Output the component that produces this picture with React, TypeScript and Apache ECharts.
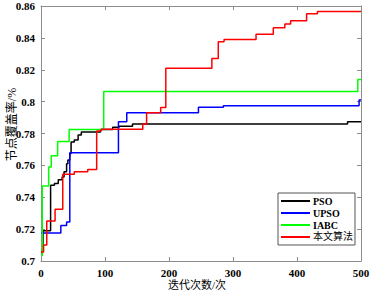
import React, { useEffect, useRef } from "react";
import * as echarts from "echarts";

const seriesNames = ["PSO", "UPSO", "IABC", "本文算法"];
const seriesColors = ["#000000", "#0000ff", "#00ff00", "#ff0000"];

const psoData: [number, number][] = [
  [0, 0.7057], [3, 0.719], [15, 0.7475], [21, 0.7486], [27, 0.751], [33, 0.7527],
  [36, 0.756], [40, 0.761], [42, 0.7633], [45, 0.7675], [47, 0.7747], [52, 0.776],
  [58, 0.779], [63, 0.781], [93, 0.7825], [112, 0.784], [122, 0.7845], [143, 0.786],
  [479, 0.7873], [500, 0.7873],
];
const upsoData: [number, number][] = [
  [0, 0.7175], [31, 0.7222], [40, 0.7245], [45, 0.768], [121, 0.7873], [134, 0.793],
  [246, 0.7964], [285, 0.7974], [497, 0.801], [500, 0.801],
];
const iabcData: [number, number][] = [
  [0, 0.7035], [2, 0.747], [12, 0.759], [16, 0.766], [26, 0.775], [44, 0.7825],
  [98, 0.8064], [495, 0.8139], [500, 0.8139],
];
const oursData: [number, number][] = [
  [0, 0.7057], [4, 0.71], [9, 0.7251], [22, 0.7325], [34, 0.7545], [52, 0.756],
  [73, 0.7574], [87, 0.7815], [94, 0.7827], [159, 0.7859], [165, 0.793], [187, 0.7963],
  [195, 0.821], [267, 0.8271], [277, 0.8376], [286, 0.839], [336, 0.8422], [363, 0.8463],
  [381, 0.8487], [390, 0.8508], [415, 0.8551], [432, 0.8565], [500, 0.8565],
];
const allData = [psoData, upsoData, iabcData, oursData];

const xMin = 0, xMax = 500, xStep = 100;
const yMin = 0.7, yMax = 0.86, yStep = 0.02;
const xTitle = "迭代次数/次";
const yTitle = "节点覆盖率/%";

const serif = "'Liberation Serif', 'Times New Roman', 'Noto Sans CJK SC', serif";
const axisGray = "#8c8c8c";

export default function App() {
  const ref = useRef<HTMLDivElement>(null);
  useEffect(() => {
    if (!ref.current) return;
    const chart = echarts.init(ref.current, undefined, { renderer: "svg" });
    const labelStyle = { fontFamily: serif, fontWeight: "bold" as const, fontSize: 11, color: "#000" };
    const grid = { left: 41, top: 6, width: 320, height: 255, containLabel: false, outerBoundsMode: "none" };
    const boxAxis = {
      axisLine: { show: true, onZero: false, lineStyle: { color: axisGray } },
      axisTick: { show: true, inside: true, length: 4, lineStyle: { color: axisGray } },
      splitLine: { show: false },
    };
    chart.setOption({
      animation: false,
      backgroundColor: "#ffffff",
      grid,
      legend: {
        orient: "vertical",
        left: 278,
        top: 193,
        padding: [3, 2, 3, 3],
        itemGap: 2,
        itemWidth: 29,
        itemHeight: 2,
        icon: "rect",
        borderColor: "#555",
        borderWidth: 1,
        backgroundColor: "#fff",
        formatter: (name: string) => (/^[A-Za-z]+$/.test(name) ? `{en|${name}}` : `{cn|${name}}`),
        textStyle: {
          color: "#000",
          padding: [0, 0, 0, -2],
          rich: {
            en: { fontFamily: serif, fontWeight: "bold", fontSize: 10, color: "#000" },
            cn: { fontFamily: serif, fontWeight: "normal", fontSize: 10, color: "#000" },
          },
        },
        data: seriesNames,
      },
      graphic: [
        {
          type: "text",
          x: 197,
          y: 284.5,
          style: { text: xTitle, font: `11px ${serif}`, fill: "#000", align: "center", verticalAlign: "middle" },
        },
      ],
      xAxis: [
        {
          type: "value", min: xMin, max: xMax, interval: xStep, position: "bottom",
          ...boxAxis,
          axisLabel: { ...labelStyle, margin: 6 },
        },
        {
          type: "value", min: xMin, max: xMax, interval: xStep, position: "top",
          ...boxAxis,
          axisLabel: { show: false },
        },
      ],
      yAxis: [
        {
          type: "value", min: yMin, max: yMax, interval: yStep, position: "left",
          ...boxAxis,
          axisLabel: { ...labelStyle, margin: 6 },
          name: yTitle,
          nameLocation: "middle",
          nameRotate: 90,
          nameGap: 29,
          nameMoveOverlap: false,
          nameTextStyle: { fontFamily: serif, fontSize: 12, color: "#000", align: "center", verticalAlign: "middle", padding: [0, 0, 18, 18] },
        },
        {
          type: "value", min: yMin, max: yMax, interval: yStep, position: "right",
          ...boxAxis,
          axisLabel: { show: false },
        },
      ],
      series: seriesNames.map((name, i) => ({
        name,
        type: "line",
        step: "end",
        data: allData[i],
        showSymbol: false,
        symbol: "none",
        color: seriesColors[i],
        lineStyle: { color: seriesColors[i], width: 1.5 },
        xAxisIndex: 0,
        yAxisIndex: 0,
      })),
    });
    return () => chart.dispose();
  }, []);
  return <div ref={ref} style={{ position: "absolute", left: 0, top: 0, width: 372, height: 292 }} />;
}
